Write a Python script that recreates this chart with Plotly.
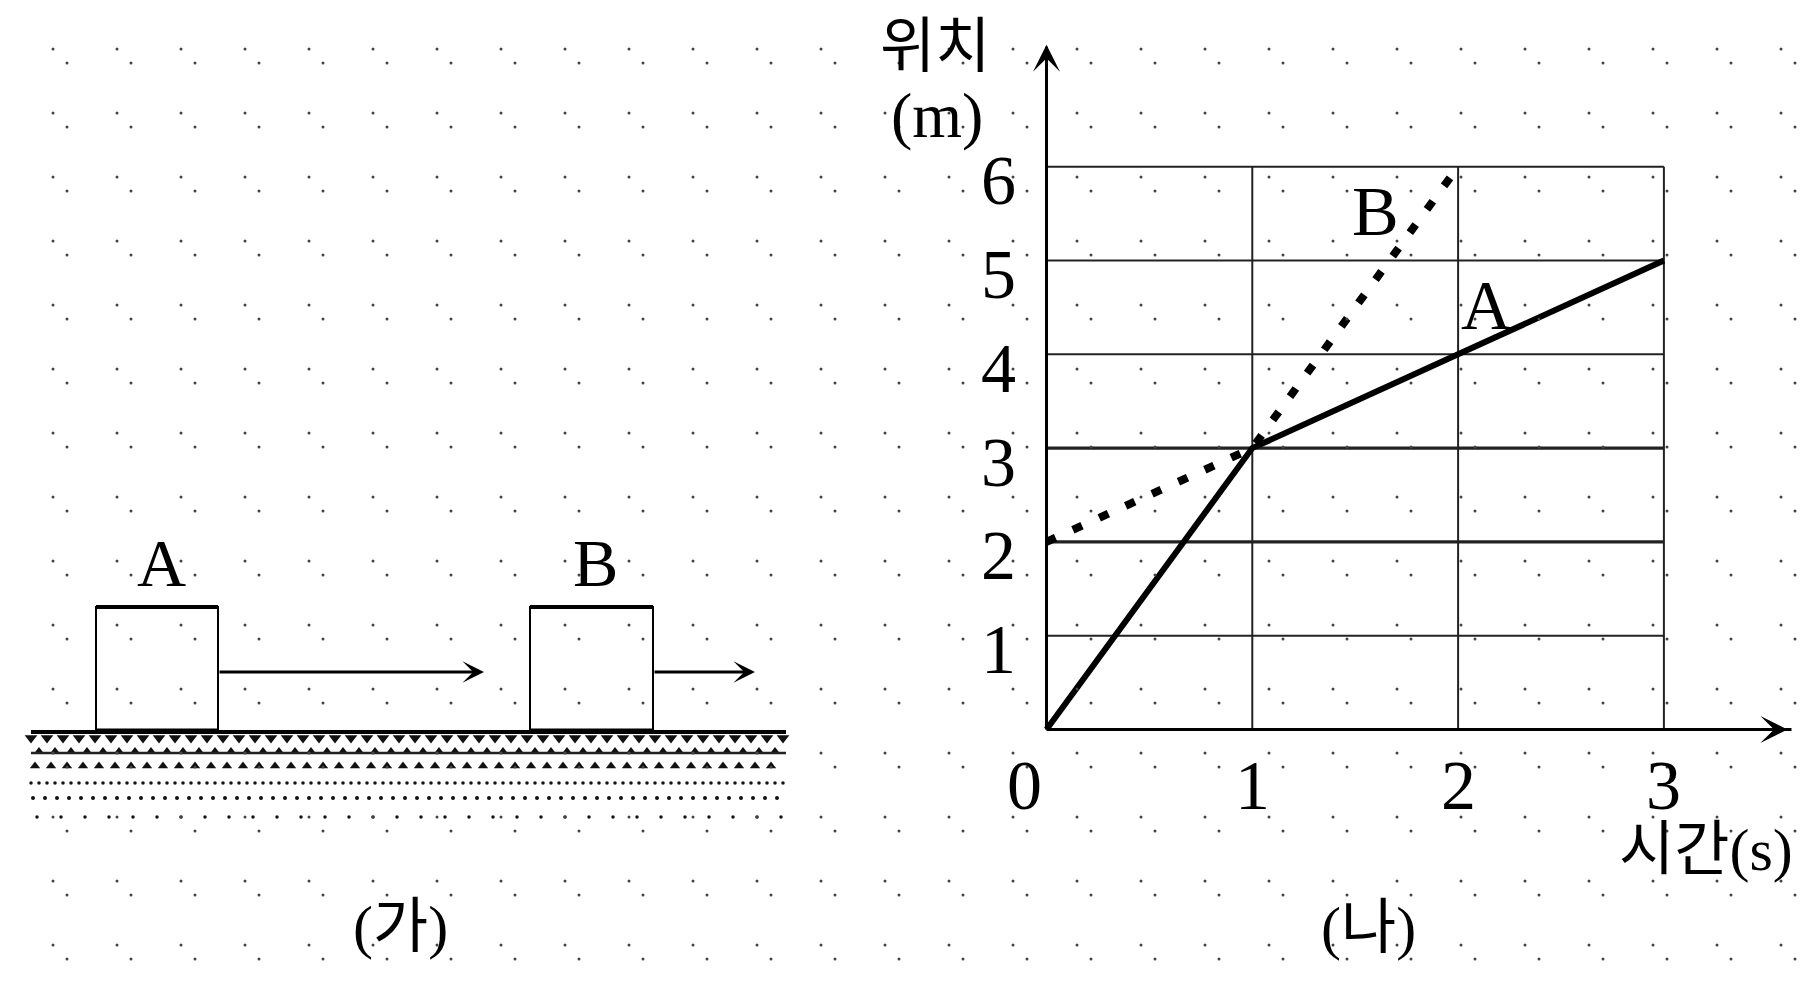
import numpy as np
import plotly.graph_objects as go

# ---------------- data: graph (나) position-time ----------------
time_A = [0, 1, 2, 3]
pos_A = [0, 3, 4, 5]
time_B = [0, 1, 2]
pos_B = [2, 3, 6]
x_ticks = [0, 1, 2, 3]
y_ticks = [0, 1, 2, 3, 4, 5, 6]
x_tick_labels = ["0", "1", "2", "3"]
y_tick_labels = ["", "1", "2", "3", "4", "5", "6"]
series_names = ["A", "B"]
series_label_x = [2.14, 1.60]
series_label_y = [4.58, 5.59]

# ---------------- data: diagram (가) blocks ----------------
block_names = ["A", "B"]
block_left = [96, 530]
block_right = [218, 653]
block_top = 607
ground_y = 732
ground_x = [31, 786]
arrow_len = [266, 102]   # A moves faster than B
arrow_y = 672

# ---------------- layout geometry (page pixels) ----------------
PW, PH = 1816, 982          # browser window
M = 8                       # default body margin of the html page
W, H = PW - M, PH - M       # figure size so that it fits the window
px_x0, px_ux = 1046.5, 205.8     # page pixel of t=0, pixels per second
px_y0, px_uy = 729.5, 93.8       # page pixel of x=0, pixels per metre
dom_x0 = 908
xr = [-(px_x0 - dom_x0) / px_ux, (PW - px_x0) / px_ux]
yr = [-(PH - px_y0) / px_uy, (px_y0 - M) / px_uy]

SERIF = "Liberation Serif, Noto Sans CJK KR"
fig = go.Figure()

# grid lines of the graph (the 2 m and 3 m lines print heavier in the scan)
for v in y_ticks[1:]:
    fig.add_trace(go.Scatter(x=[x_ticks[0], x_ticks[-1]], y=[v, v], mode="lines",
                             line=dict(color="#222", width=(3.2 if v in (2, 3) else 2)),
                             hoverinfo="skip", showlegend=False))
gx, gy = [], []
for v in x_ticks[1:]:
    gx += [v, v, None]
    gy += [y_ticks[0], y_ticks[-1], None]
fig.add_trace(go.Scatter(x=gx, y=gy, mode="lines", line=dict(color="#222", width=2),
                         hoverinfo="skip", showlegend=False))
# axis lines
fig.add_trace(go.Scatter(x=[0, 3.62, None, 0, 0], y=[0, 0, None, 0, 7.28], mode="lines",
                         line=dict(color="#000", width=3), hoverinfo="skip", showlegend=False))
# series
fig.add_trace(go.Scatter(x=time_B, y=pos_B, mode="lines", name="B",
                         line=dict(color="#000", width=8, dash="10px,19px"), showlegend=False))
fig.add_trace(go.Scatter(x=time_A, y=pos_A, mode="lines", name="A",
                         line=dict(color="#000", width=6), showlegend=False))

# ---------------- diagram (가) on page-pixel axes ----------------
hatch_rows = [(738, "triangle-down", 11, 16, 0), (751, "triangle-up", 8, 16, 8),
              (766, "triangle-up", 9, 16, 4), (783, "circle", 3.5, 8, 0),
              (798, "circle", 4, 12, 2), (817, "circle", 3.5, 24, 6)]
for yy, sym, sz, step, off in hatch_rows:
    xs = np.arange(ground_x[0] + off, ground_x[1], step)
    fig.add_trace(go.Scatter(x=xs, y=np.full(len(xs), yy), mode="markers", xaxis="x2", yaxis="y2",
                             marker=dict(symbol=sym, size=sz, color="#111", line=dict(width=0)),
                             hoverinfo="skip", showlegend=False))
fig.add_trace(go.Scatter(x=ground_x, y=[753, 753], mode="lines", xaxis="x2", yaxis="y2",
                         line=dict(color="#222", width=2.5), hoverinfo="skip", showlegend=False))
fig.add_trace(go.Scatter(x=ground_x, y=[ground_y, ground_y], mode="lines", xaxis="x2", yaxis="y2",
                         line=dict(color="#000", width=4), hoverinfo="skip", showlegend=False))
for i, name in enumerate(block_names):
    l, r = block_left[i], block_right[i]
    fig.add_trace(go.Scatter(x=[l, l, r, r], y=[ground_y, block_top, block_top, ground_y],
                             mode="lines", xaxis="x2", yaxis="y2", line=dict(color="#000", width=2),
                             hoverinfo="skip", showlegend=False))
    fig.add_trace(go.Scatter(x=[l, r], y=[block_top, block_top], mode="lines", xaxis="x2", yaxis="y2",
                             line=dict(color="#000", width=4), hoverinfo="skip", showlegend=False))
    fig.add_trace(go.Scatter(x=[l, r], y=[ground_y - 1, ground_y - 1], mode="lines", xaxis="x2", yaxis="y2",
                             line=dict(color="#000", width=5), hoverinfo="skip", showlegend=False))
    fig.add_annotation(x=r + arrow_len[i], y=arrow_y, ax=r, ay=arrow_y, xref="x2", yref="y2",
                       axref="x2", ayref="y2", text="", showarrow=True, arrowhead=3,
                       arrowsize=1.2, arrowwidth=3, arrowcolor="#000")
    fig.add_annotation(x=(l + r) / 2 + 4, y=557, xref="x2", yref="y2", text=name, showarrow=False,
                       font=dict(family=SERIF, size=68, color="#000"), yshift=-6)

# background dot texture of the scanned page
tx, ty = [], []
for oy, ox in [(-15, -11), (-1, 3)]:
    xx, yy = np.meshgrid(np.arange(ox, PW, 64), np.arange(oy, PH, 64))
    tx += list(xx.ravel()); ty += list(yy.ravel())
fig.add_trace(go.Scatter(x=tx, y=ty, mode="markers", xaxis="x2", yaxis="y2",
                         marker=dict(size=3, color="#444", line=dict(width=0)),
                         hoverinfo="skip", showlegend=False))

# axis arrowheads of the graph
fig.add_annotation(x=3.60, y=0, ax=3.3, ay=0, xref="x", yref="y", axref="x", ayref="y", text="",
                   showarrow=True, arrowhead=3, arrowsize=1.5, arrowwidth=3, arrowcolor="#000")
fig.add_annotation(x=0, y=7.30, ax=0, ay=6.9, xref="x", yref="y", axref="x", ayref="y", text="",
                   showarrow=True, arrowhead=3, arrowsize=1.5, arrowwidth=3, arrowcolor="#000")

tick_font = dict(family=SERIF, size=70, color="#000")
for v, lab in zip(y_ticks, y_tick_labels):
    if lab:
        fig.add_annotation(x=0, y=v, xref="x", yref="y", text=lab, showarrow=False,
                           font=tick_font, xshift=-48, yshift=-14)
for v, lab in zip(x_ticks, x_tick_labels):
    fig.add_annotation(x=v, y=0, xref="x", yref="y", text=lab, showarrow=False,
                       font=tick_font, xshift=(-22 if v == 0 else 0), yshift=-56)
for name, lx, ly in zip(series_names, series_label_x, series_label_y):
    fig.add_annotation(x=lx, y=ly, xref="x", yref="y", text=name, showarrow=False,
                       font=tick_font, yshift=-6)

kfont = dict(family=SERIF, size=60, color="#000")
fig.add_annotation(x=935, y=47, xref="x2", yref="y2", text="위치", showarrow=False, font=kfont)
fig.add_annotation(x=937, y=115, xref="x2", yref="y2", text="(m)", showarrow=False,
                   font=dict(family=SERIF, size=64, color="#000"))
fig.add_annotation(x=1706, y=850, xref="x2", yref="y2", text="시간(s)", showarrow=False, font=kfont)
fig.add_annotation(x=400, y=927, xref="x2", yref="y2", text="(가)", showarrow=False, font=kfont)
fig.add_annotation(x=1368, y=928, xref="x2", yref="y2", text="(나)", showarrow=False, font=kfont)

hidden = dict(visible=False, showgrid=False, zeroline=False, fixedrange=True)
fig.update_layout(
    width=W, height=H, autosize=False,
    margin=dict(l=0, r=0, t=0, b=0, pad=0),
    paper_bgcolor="#ffffff", plot_bgcolor="rgba(0,0,0,0)",
    xaxis=dict(domain=[(dom_x0 - M) / W, 1], range=xr, **hidden),
    yaxis=dict(domain=[0, 1], range=yr, **hidden),
    xaxis2=dict(domain=[0, 1], range=[M, PW], anchor="y2", **hidden),
    yaxis2=dict(domain=[0, 1], range=[PH, M], anchor="x2", **hidden),
    showlegend=False,
)
fig.write_html("out.html")
